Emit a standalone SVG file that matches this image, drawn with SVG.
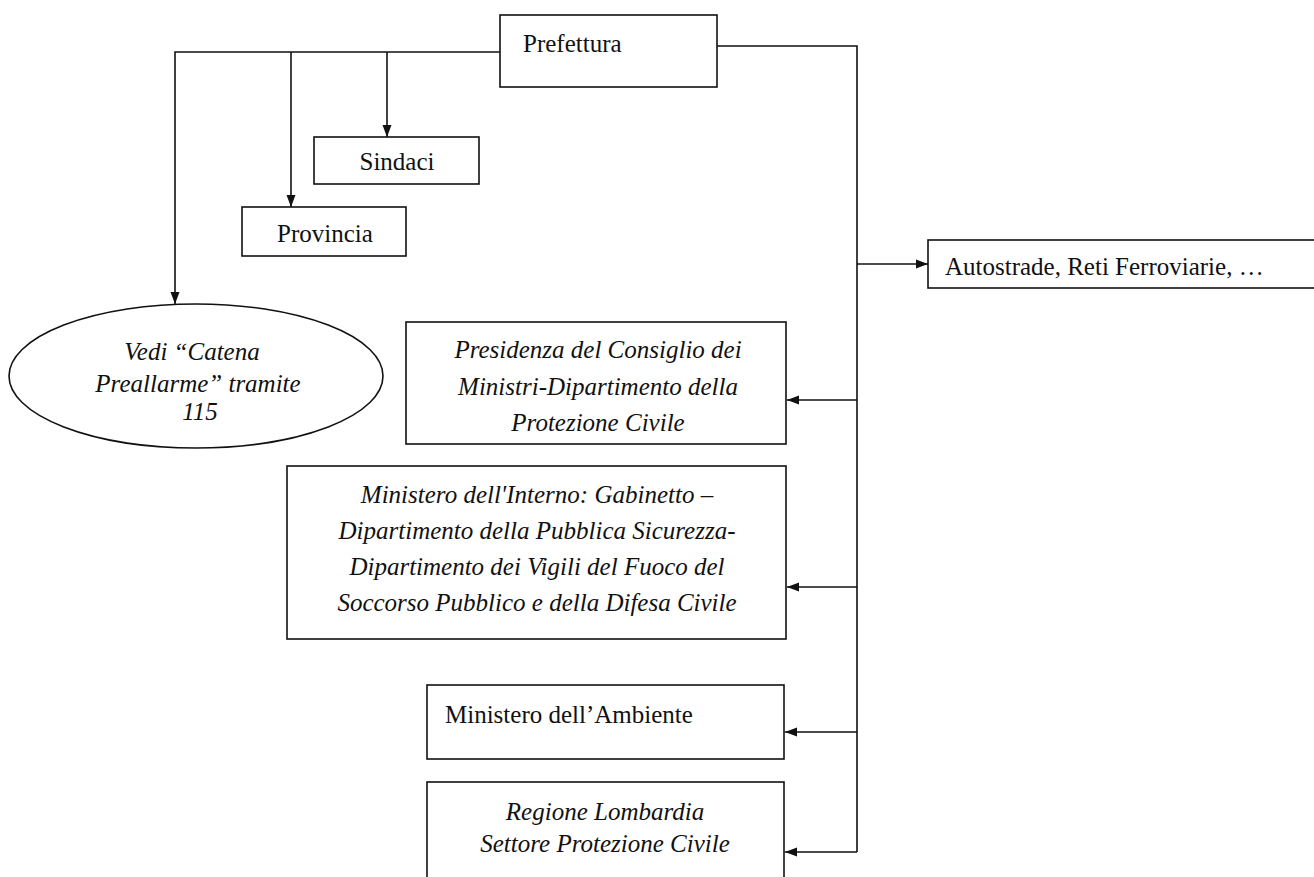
<svg xmlns="http://www.w3.org/2000/svg" width="1314" height="877" viewBox="0 0 1314 877">
<style>
.box{fill:#fff;stroke:#111;stroke-width:1.6}
.ln{fill:none;stroke:#111;stroke-width:1.6}
.t{font-family:"Liberation Serif","Times New Roman",serif;font-size:25px;fill:#111}
.i{font-style:italic}
.c{text-anchor:middle}
</style>
<defs>
<marker id="ah" viewBox="0 0 12 10" refX="12" refY="5" markerWidth="12" markerHeight="10" markerUnits="userSpaceOnUse" orient="auto">
<path d="M0,0.5 L12,5 L0,9.5 Z" fill="#111"/>
</marker>
</defs>
<rect width="1314" height="877" fill="#fff"/>
<g id="connectors">
<path class="ln" d="M500,52 H175 V304" marker-end="url(#ah)"/>
<path class="ln" d="M291,52 V207" marker-end="url(#ah)"/>
<path class="ln" d="M387,52 V137" marker-end="url(#ah)"/>
<path class="ln" d="M717,46 H857 V852"/>
<path class="ln" d="M857,264 H928" marker-end="url(#ah)"/>
<path class="ln" d="M857,400 H787" marker-end="url(#ah)"/>
<path class="ln" d="M857,587 H787" marker-end="url(#ah)"/>
<path class="ln" d="M857,732 H785" marker-end="url(#ah)"/>
<path class="ln" d="M857,852 H785" marker-end="url(#ah)"/>
</g>
<g id="prefettura">
<rect class="box" x="500" y="15" width="217" height="72"/>
<text class="t" x="523" y="52">Prefettura</text>
</g>
<g id="sindaci">
<rect class="box" x="314" y="137" width="165" height="47"/>
<text class="t c" x="397" y="170">Sindaci</text>
</g>
<g id="provincia">
<rect class="box" x="242" y="207" width="164" height="49"/>
<text class="t c" x="325" y="242">Provincia</text>
</g>
<g id="catena">
<ellipse class="box" cx="196" cy="376" rx="187" ry="72"/>
<text class="t i c" x="192" y="360">Vedi “Catena</text>
<text class="t i c" x="198" y="392">Preallarme” tramite</text>
<text class="t i c" x="200" y="420">115</text>
</g>
<g id="autostrade">
<rect class="box" x="928" y="240" width="420" height="48"/>
<text class="t" x="945" y="275">Autostrade, Reti Ferroviarie, …</text>
</g>
<g id="presidenza">
<rect class="box" x="406" y="322" width="380" height="122"/>
<text class="t i c" x="598" y="358">Presidenza del Consiglio dei</text>
<text class="t i c" x="598" y="395">Ministri-Dipartimento della</text>
<text class="t i c" x="598" y="431">Protezione Civile</text>
</g>
<g id="interno">
<rect class="box" x="287" y="466" width="499" height="173"/>
<text class="t i c" x="537" y="503">Ministero dell'Interno: Gabinetto –</text>
<text class="t i c" x="537" y="539">Dipartimento della Pubblica Sicurezza-</text>
<text class="t i c" x="537" y="575">Dipartimento dei Vigili del Fuoco del</text>
<text class="t i c" x="537" y="611">Soccorso Pubblico e della Difesa Civile</text>
</g>
<g id="ambiente">
<rect class="box" x="427" y="685" width="357" height="74"/>
<text class="t" x="445" y="723">Ministero dell’Ambiente</text>
</g>
<g id="regione">
<rect class="box" x="427" y="782" width="357" height="130"/>
<text class="t i c" x="605" y="820">Regione Lombardia</text>
<text class="t i c" x="605" y="852">Settore Protezione Civile</text>
</g>
</svg>
